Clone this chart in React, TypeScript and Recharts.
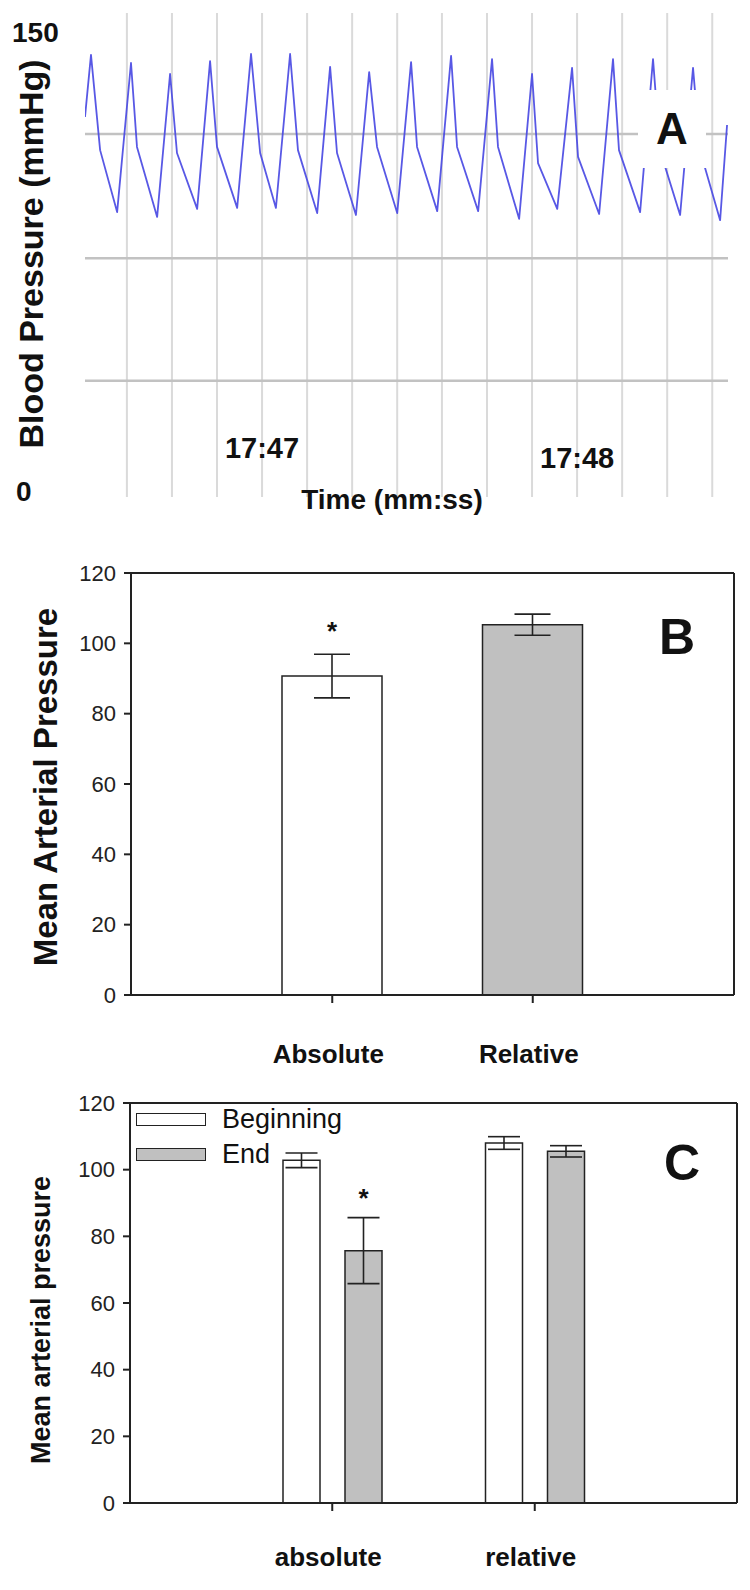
import React from 'react';
import {
  LineChart, Line, XAxis, YAxis, ReferenceLine,
  BarChart, Bar, Cell, ErrorBar, LabelList, Label, Legend
} from 'recharts';

const FONT = '"Liberation Sans", Arial, Helvetica, sans-serif';

// ---- Panel A: pressure trace (time = seconds after 17:00, pressure in mmHg)
const traceTime = [
  46.438, 46.457, 46.486, 46.540,
  46.584, 46.603, 46.667,
  46.708, 46.730, 46.794,
  46.835, 46.857, 46.921,
  46.965, 46.994, 47.044,
  47.089, 47.114, 47.175,
  47.216, 47.238, 47.298,
  47.340, 47.365, 47.429,
  47.473, 47.492, 47.556,
  47.600, 47.619, 47.686,
  47.730, 47.749, 47.816,
  47.857, 47.876, 47.937,
  47.984, 48.003, 48.070,
  48.114, 48.133, 48.200,
  48.241, 48.263, 48.327,
  48.368, 48.390, 48.454,
  48.476,
];
const tracePressure = [
  117.8, 137.0, 107.5, 88.3,
  134.5, 108.5, 86.8,
  131.1, 106.6, 89.3,
  135.1, 108.5, 89.6,
  137.3, 106.6, 89.6,
  137.3, 107.5, 88.0,
  133.3, 106.6, 87.4,
  131.7, 108.5, 88.0,
  134.8, 108.5, 88.6,
  136.7, 108.5, 88.6,
  135.7, 108.5, 86.2,
  131.1, 103.5, 89.3,
  133.0, 105.4, 87.7,
  135.7, 107.5, 88.3,
  135.7, 107.5, 87.4,
  133.0, 107.5, 85.8,
  115.3,
];
const gridTimes = [46.571, 46.714, 46.857, 47, 47.143, 47.286, 47.429, 47.571, 47.714, 47.857, 48, 48.143, 48.286, 48.429];
const timeLabels = [47, 48];
const pressureGrid = [36, 74, 112.5];
const pressureLabels = [0, 150];

const traceData = traceTime.map((t, i) => ({ t, p: tracePressure[i] }));

// ---- Panel B
const bCategories = ['Absolute', 'Relative'];
const bMeans = [90.7, 105.3];
const bErrors = [6.2, 3.0];
const bStars = [true, false];
const bFills = ['#ffffff', '#c0c0c0'];

// ---- Panel C
const cCategories = ['absolute', 'relative'];
const cBeginning = [102.8, 108.0];
const cBeginningErr = [2.2, 1.9];
const cEnd = [75.7, 105.5];
const cEndErr = [9.9, 1.7];
const cEndStars = [true, false];

const barTicks = [0, 20, 40, 60, 80, 100, 120];

const bData = bCategories.map((name, i) => ({ name, mean: bMeans[i], err: bErrors[i] }));
const cData = cCategories.map((name, i) => ({
  name, beg: cBeginning[i], begErr: cBeginningErr[i], end: cEnd[i], endErr: cEndErr[i],
}));

const TimeTick = (props: any) => {
  const v = props.payload.value;
  const idx = timeLabels.findIndex(t => Math.abs(t - v) < 1e-6);
  if (idx < 0) return null;
  const yy = idx === 0 ? 448 : 458;
  return (
    <text x={props.x} y={yy} textAnchor="middle" dominantBaseline="central"
      fontFamily={FONT} fontWeight="bold" fontSize={29} fill="#111">
      {`17:${Math.round(v)}`}
    </text>
  );
};

const PressureTick = (props: any) => {
  const v = props.payload.value;
  const top = v === 150;
  return (
    <text x={top ? 12 : 16} y={top ? 32 : 491} textAnchor="start" dominantBaseline="central"
      fontFamily={FONT} fontWeight="bold" fontSize={28} fill="#111">
      {v}
    </text>
  );
};

const starLabel = (means: number[], errs: number[], stars: boolean[], gap: number) => (props: any) => {
  const { x, y, width, height, index } = props;
  if (!stars[index]) return null;
  const perUnit = height / means[index];
  const top = y - errs[index] * perUnit;
  return (
    <text x={x + width / 2} y={top - gap} textAnchor="middle"
      fontFamily={FONT} fontWeight="bold" fontSize={26} fill="#111">*</text>
  );
};

const catTick = (yy: number, size: number) => (props: any) => (
  <text x={props.x - 4} y={yy} textAnchor="middle" dominantBaseline="central"
    fontFamily={FONT} fontWeight="bold" fontSize={size} fill="#111">
    {props.payload.value}
  </text>
);

const numTick = (props: any) => (
  <text x={props.x - 6} y={props.y} textAnchor="end" dominantBaseline="central"
    fontFamily={FONT} fontSize={22} fill="#222">
    {props.payload.value}
  </text>
);

const yTitle = (text: string, cx: number, cy: number, size: number) => () => (
  <text x={cx} y={cy} transform={`rotate(-90 ${cx} ${cy})`} textAnchor="middle" dominantBaseline="central"
    fontFamily={FONT} fontWeight="bold" fontSize={size} fill="#111">
    {text}
  </text>
);

const panelLetter = (letter: string, left: number, top: number, w: number, h: number, size: number) => (
  <div style={{
    position: 'absolute', left, top, width: w, height: h, background: '#fff',
    display: 'flex', alignItems: 'center', justifyContent: 'center',
    fontFamily: FONT, fontWeight: 'bold', fontSize: size, color: '#111', lineHeight: 1,
  }}>{letter}</div>
);

const CLegend = () => (
  <div style={{ fontFamily: FONT, fontSize: 27, color: '#111' }}>
    {[{ label: 'Beginning', fill: '#ffffff' }, { label: 'End', fill: '#c0c0c0' }].map(it => (
      <div key={it.label} style={{ display: 'flex', alignItems: 'center', height: 35 }}>
        <div style={{ width: 68, height: 11, background: it.fill, border: '1.5px solid #222', marginRight: 16 }} />
        <span>{it.label}</span>
      </div>
    ))}
  </div>
);

export default function App() {
  return (
    <div style={{ position: 'absolute', left: 0, top: 0, width: 750, height: 1590, background: '#fff', overflow: 'hidden' }}>
      {/* Panel A */}
      <div style={{ position: 'absolute', left: 0, top: 0 }}>
        <LineChart width={750} height={520} data={traceData} margin={{ top: 13, right: 22, bottom: 0, left: 0 }}>
          {gridTimes.map(t => (
            <ReferenceLine key={`v${t}`} x={t} stroke="#dadada" strokeWidth={2} />
          ))}
          {pressureGrid.map(v => (
            <ReferenceLine key={`h${v}`} y={v} stroke="#c2c2c2" strokeWidth={2.5} />
          ))}
          <XAxis dataKey="t" type="number" domain={[46.438, 48.479]} allowDataOverflow ticks={gridTimes}
            interval={0} height={23} axisLine={false} tickLine={false} tick={<TimeTick />}>
            <Label content={() => (
              <text x={392} y={499} textAnchor="middle" dominantBaseline="central"
                fontFamily={FONT} fontWeight="bold" fontSize={28} fill="#111">Time (mm:ss)</text>
            )} />
          </XAxis>
          <YAxis type="number" domain={[0, 150]} ticks={pressureLabels} width={85}
            axisLine={false} tickLine={false} tick={<PressureTick />}>
            <Label content={yTitle('Blood Pressure (mmHg)', 31, 254, 34)} />
          </YAxis>
          <Line type="linear" dataKey="p" stroke="#4646e2" strokeOpacity={0.9} strokeWidth={1.8} dot={false}
            isAnimationActive={false} strokeLinejoin="round" />
        </LineChart>
        {panelLetter('A', 638, 90, 68, 78, 44)}
      </div>

      {/* Panel B */}
      <div style={{ position: 'absolute', left: 0, top: 540 }}>
        <BarChart width={750} height={535} data={bData} margin={{ top: 32, right: 15, bottom: 0, left: 0 }}>
          <XAxis dataKey="name" height={80} padding={{ left: 101, right: 101 }} interval={0}
            stroke="#222" strokeWidth={2} tickSize={8} tick={catTick(514, 26)} />
          <XAxis xAxisId="top" orientation="top" dataKey="name" height={1} tick={false} tickLine={false}
            stroke="#222" strokeWidth={2} />
          <YAxis domain={[0, 120]} ticks={barTicks} width={131} interval={0}
            stroke="#222" strokeWidth={2} tickSize={7} tick={numTick}>
            <Label content={yTitle('Mean Arterial Pressure', 45, 247, 33)} />
          </YAxis>
          <YAxis yAxisId="right" orientation="right" domain={[0, 120]} width={1} tick={false} tickLine={false}
            stroke="#222" strokeWidth={2} />
          <Bar dataKey="mean" barSize={100} stroke="#222" strokeWidth={1.5} isAnimationActive={false}>
            {bData.map((d, i) => <Cell key={d.name} fill={bFills[i]} />)}
            <ErrorBar dataKey="err" width={18} stroke="#222" strokeWidth={1.6} direction="y" />
            <LabelList dataKey="mean" content={starLabel(bMeans, bErrors, bStars, 14)} />
          </Bar>
        </BarChart>
        {panelLetter('B', 652, 71, 50, 52, 50)}
      </div>

      {/* Panel C */}
      <div style={{ position: 'absolute', left: 0, top: 1080 }}>
        <BarChart width={750} height={510} data={cData} margin={{ top: 22, right: 12, bottom: 0, left: 0 }}
          barGap={25}>
          <XAxis dataKey="name" height={87} padding={{ left: 101, right: 101 }} interval={0}
            stroke="#222" strokeWidth={2} tickSize={8} tick={catTick(477, 26)} />
          <XAxis xAxisId="top" orientation="top" dataKey="name" height={1} tick={false} tickLine={false}
            stroke="#222" strokeWidth={2} />
          <YAxis domain={[0, 120]} ticks={barTicks} width={130} interval={0}
            stroke="#222" strokeWidth={2} tickSize={7} tick={numTick}>
            <Label content={yTitle('Mean arterial pressure', 41, 240, 27)} />
          </YAxis>
          <YAxis yAxisId="right" orientation="right" domain={[0, 120]} width={1} tick={false} tickLine={false}
            stroke="#222" strokeWidth={2} />
          <Legend verticalAlign="middle" align="center" layout="horizontal"
            wrapperStyle={{ left: 136, top: 22, width: 'auto' }} content={<CLegend />} />
          <Bar dataKey="beg" barSize={37} fill="#ffffff" stroke="#222" strokeWidth={1.5} isAnimationActive={false}>
            <ErrorBar dataKey="begErr" width={16} stroke="#222" strokeWidth={1.6} direction="y" />
          </Bar>
          <Bar dataKey="end" barSize={37} fill="#c0c0c0" stroke="#222" strokeWidth={1.5} isAnimationActive={false}>
            <ErrorBar dataKey="endErr" width={16} stroke="#222" strokeWidth={1.6} direction="y" />
            <LabelList dataKey="end" content={starLabel(cEnd, cEndErr, cEndStars, 11)} />
          </Bar>
        </BarChart>
        {panelLetter('C', 655, 55, 54, 56, 50)}
      </div>
    </div>
  );
}
